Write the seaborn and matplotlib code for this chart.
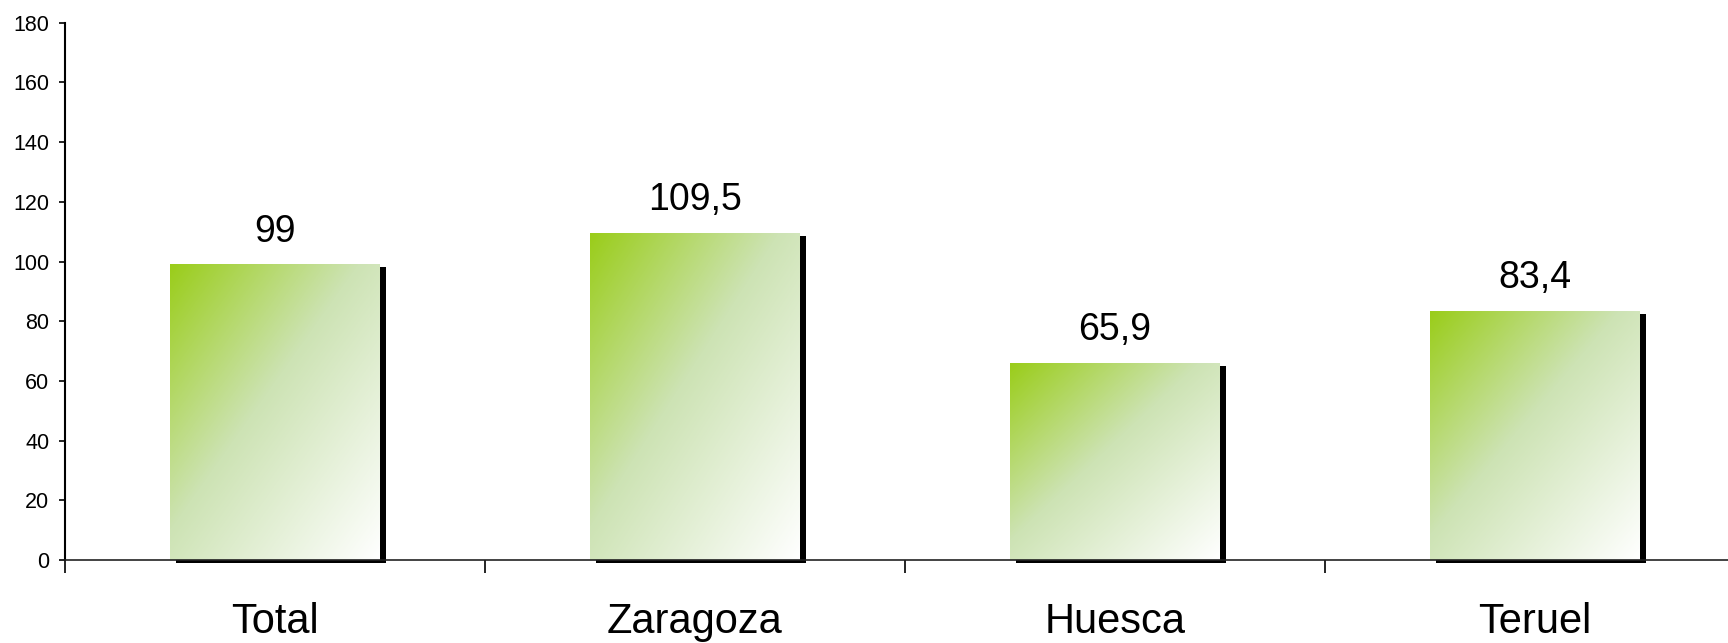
import numpy as np
import pandas as pd
import seaborn as sns
import matplotlib
matplotlib.use("Agg")
import matplotlib.pyplot as plt
import matplotlib.transforms as mtrans
from matplotlib.patches import Rectangle
from matplotlib.colors import LinearSegmentedColormap

categories = ["Total", "Zaragoza", "Huesca", "Teruel"]
values = [99, 109.5, 65.9, 83.4]
value_labels = ["99", "109,5", "65,9", "83,4"]
yticks = [0, 20, 40, 60, 80, 100, 120, 140, 160, 180]

sns.set_theme(style="white")
plt.rcParams["font.family"] = ["Liberation Sans", "DejaVu Sans"]

W, H = 1728, 643
fig = plt.figure(figsize=(W / 100, H / 100), dpi=100)
ax = fig.add_axes([65 / W, 83 / H, 1680 / W, 537.3 / H])

df = pd.DataFrame({"cat": categories, "val": values})
sns.barplot(data=df, x="cat", y="val", ax=ax, width=0.5, color="white",
            saturation=1, edgecolor="none", linewidth=0, errorbar=None, zorder=2)

cmap = LinearSegmentedColormap.from_list(
    "grad", [(0.0, (154/255, 205/255, 26/255)),
             (0.45, (205/255, 227/255, 180/255)),
             (1.0, (1, 1, 1))])
n = 200
u = np.linspace(0, 1, n)
U, V = np.meshgrid(u, u)
grad = cmap((U + V) / 2)

shadow_tr = ax.transData + mtrans.ScaledTranslation(5.5 / 100, -3 / 100, fig.dpi_scale_trans)

for p, lbl in zip(ax.patches, value_labels):
    x, w, h = p.get_x(), p.get_width(), p.get_height()
    sh = Rectangle((x, 0), w, h, facecolor="black", edgecolor="none",
                   transform=shadow_tr, zorder=1, clip_on=False)
    ax.add_patch(sh)
    im = ax.imshow(grad, extent=[x, x + w, 0, h], origin="upper", aspect="auto",
                   zorder=3, interpolation="bilinear")
    im.set_clip_path(p)
    ax.annotate(lbl, (x + w / 2, h), xytext=(0, 16.5), textcoords="offset points",
                ha="center", va="baseline", fontsize=27, color="black")

ax.set_xlim(-0.5, 3.5)
ax.set_ylim(0, 180)
ax.set_yticks(yticks)
ax.set_yticklabels([str(t) for t in yticks])
ax.set_xticks(range(len(categories)))
ax.set_xticklabels(categories)
ax.set_xticks([-0.5, 0.5, 1.5, 2.5, 3.5], minor=True)
ax.set_xlabel("")
ax.set_ylabel("")

ax.tick_params(axis="x", which="major", length=0, pad=30, labelsize=30, labelcolor="black")
ax.tick_params(axis="x", which="minor", length=9.4, width=1.2, color="black", direction="out", bottom=True)
ax.tick_params(axis="y", which="major", length=4.3, width=1.2, color="black", direction="out",
               left=True, pad=7, labelsize=15.5, labelcolor="black")

for s in ["top", "right"]:
    ax.spines[s].set_visible(False)
ax.spines["left"].set_color("black")
ax.spines["left"].set_linewidth(1.5)
ax.spines["bottom"].set_color("#222222")
ax.spines["bottom"].set_linewidth(1.2)
ax.spines["bottom"].set_zorder(4)

fig.savefig("out.png", dpi=100, facecolor="white")
